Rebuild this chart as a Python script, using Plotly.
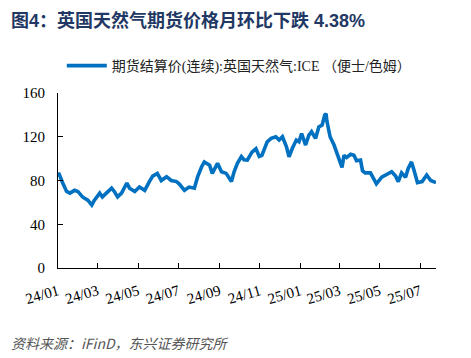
import plotly.graph_objects as go

# ---- data ----
dates = [
    "2024-01-01", "2024-01-02", "2024-01-08", "2024-01-14", "2024-01-19", "2024-01-26", "2024-01-31",
    "2024-02-07", "2024-02-15", "2024-02-21", "2024-02-25", "2024-03-04", "2024-03-08", "2024-03-16",
    "2024-03-22", "2024-03-26", "2024-03-31", "2024-04-06", "2024-04-14", "2024-04-18", "2024-04-26",
    "2024-05-03", "2024-05-11", "2024-05-18", "2024-05-23", "2024-05-30", "2024-06-05", "2024-06-13",
    "2024-06-20", "2024-06-28", "2024-07-02", "2024-07-10", "2024-07-17", "2024-07-25", "2024-07-30",
    "2024-08-05", "2024-08-09", "2024-08-17", "2024-08-21", "2024-08-29", "2024-09-04", "2024-09-11",
    "2024-09-19", "2024-09-23", "2024-09-28", "2024-10-04", "2024-10-08", "2024-10-13", "2024-10-20",
    "2024-10-26", "2024-10-31", "2024-11-04", "2024-11-12", "2024-11-18", "2024-11-25", "2024-11-30",
    "2024-12-05", "2024-12-11", "2024-12-15", "2024-12-20", "2024-12-26", "2024-12-30", "2025-01-03",
    "2025-01-09", "2025-01-14", "2025-01-18", "2025-01-24", "2025-01-29", "2025-02-03", "2025-02-07",
    "2025-02-09", "2025-02-10", "2025-02-15", "2025-02-21", "2025-02-25", "2025-03-01", "2025-03-05",
    "2025-03-08", "2025-03-12", "2025-03-18", "2025-03-23", "2025-03-27", "2025-04-02", "2025-04-05",
    "2025-04-09", "2025-04-17", "2025-04-21", "2025-04-26", "2025-05-04", "2025-05-11", "2025-05-19",
    "2025-05-25", "2025-05-29", "2025-06-03", "2025-06-09", "2025-06-13", "2025-06-18", "2025-06-22",
    "2025-06-27", "2025-07-04", "2025-07-11", "2025-07-17", "2025-07-25",
]
prices = [
    85, 87, 78, 70, 68.5, 71, 70,
    65, 62, 57.6, 62, 68.5, 65, 70,
    73, 70, 65, 68.5, 77.7, 73, 70,
    74, 71, 79, 84, 86.5, 80, 83.5,
    80, 79, 77, 71, 74, 73, 83.5,
    92.6, 97, 94, 86.5, 95.7, 88, 86.5,
    79, 88, 95.7, 101.8, 99, 98.7, 106,
    109, 102, 103, 115.4, 118.5, 120, 117,
    120, 111, 101.7, 109.4, 117, 115.4, 123,
    112.4, 121.6, 124.6, 118.5, 129, 130.7, 139.9,
    141, 135, 120, 112.4, 106, 100, 92,
    103, 101, 104, 103, 98, 98.7, 89,
    87, 87, 82, 77, 83, 85, 88,
    84, 79, 87, 83, 91, 97, 89,
    78, 79, 85, 80, 78,
]

series_name = "期货结算价(连续):英国天然气:ICE （便士/色姆）"
title_text = "图4：英国天然气期货价格月环比下跌 4.38%"
source_text = "资料来源：iFinD，东兴证券研究所"

x_tickvals = ["2024-01-01", "2024-03-01", "2024-05-01", "2024-07-01", "2024-09-01",
              "2024-11-01", "2025-01-01", "2025-03-01", "2025-05-01", "2025-07-01"]
x_ticktext = ["24/01", "24/03", "24/05", "24/07", "24/09",
              "24/11", "25/01", "25/03", "25/05", "25/07"]
y_tickvals = [0, 40, 80, 120, 160]

fig = go.Figure()
fig.add_trace(go.Scatter(
    x=dates, y=prices, mode="lines", name=series_name,
    line=dict(color="#0070C0", width=3.6),
    showlegend=True,
))

# the page body keeps the browser's 8px margin, so the figure is 8px smaller
fig.update_layout(
    width=463, height=350,
    margin=dict(l=50, r=35, t=85, b=90, autoexpand=False),
    paper_bgcolor="white", plot_bgcolor="white",
    showlegend=True,
    legend=dict(
        orientation="h", x=0.010, y=1.154, xref="paper", yref="paper",
        xanchor="left", yanchor="middle",
        font=dict(family="Liberation Serif, Noto Sans CJK SC", size=14, color="#222222"),
        itemwidth=40, bgcolor="rgba(0,0,0,0)",
    ),
    annotations=[
        dict(text="<b>" + title_text + "</b>", xref="paper", yref="paper",
             x=-0.129, y=1.485, xanchor="left", yanchor="top", showarrow=False,
             font=dict(family="Liberation Sans, Noto Sans CJK SC", size=18, color="#1F3864")),
        dict(text="<i>" + source_text + "</i>", xref="paper", yref="paper",
             x=-0.129, y=-0.429, xanchor="left", yanchor="middle", showarrow=False,
             font=dict(family="Noto Sans CJK SC", size=14, color="#555555")),
    ],
)

fig.update_xaxes(
    type="date", range=["2024-01-01", "2025-07-25"],
    tickvals=x_tickvals, ticktext=x_ticktext, tickangle=-16,
    ticks="inside", ticklen=5, tickcolor="#000000",
    showline=True, linecolor="#000000", linewidth=1,
    showgrid=False, zeroline=False,
    tickfont=dict(family="Liberation Serif", size=15, color="#000000"),
    ticklabelstandoff=8,
)
fig.update_yaxes(
    range=[0, 160], tickvals=y_tickvals,
    ticks="inside", ticklen=5, tickcolor="#000000",
    showline=True, linecolor="#000000", linewidth=1,
    showgrid=False, zeroline=False,
    tickfont=dict(family="Liberation Serif", size=15, color="#000000"),
    ticklabelstandoff=9,
)

fig.write_html("out.html")
